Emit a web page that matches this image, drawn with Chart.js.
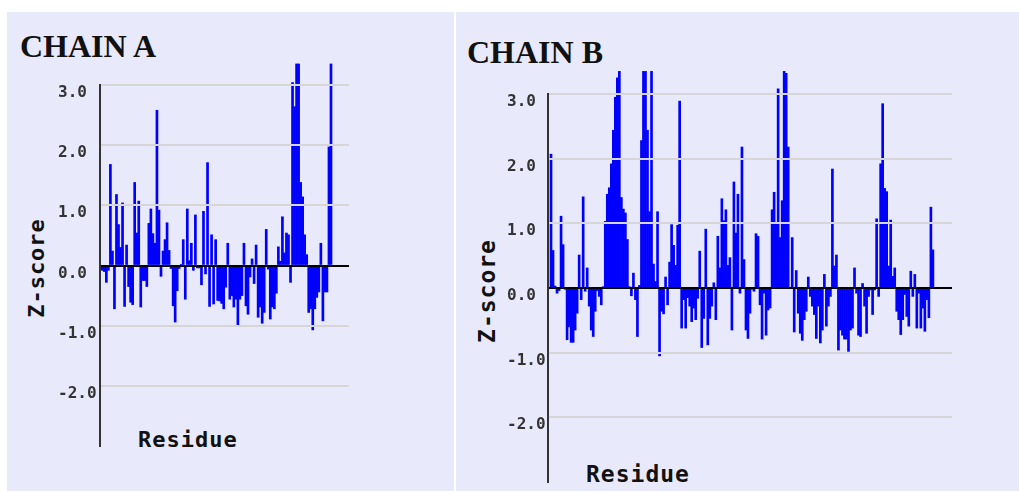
<!DOCTYPE html>
<html>
<head>
<meta charset="utf-8">
<title>Z-score per residue</title>
<script src="https://cdn.jsdelivr.net/npm/chart.js@4"></script>
<style>
  html, body { margin: 0; padding: 0; background: #fff; }
  body { width: 1019px; height: 492px; position: relative; overflow: hidden; }
  .panel { position: absolute; top: 12px; height: 479px; background: #e8eafc; }
  #panelA { left: 7px; width: 447px; }
  #panelB { left: 456px; width: 563px; }
  .title { position: absolute; font: bold 32px "Liberation Serif", "Times New Roman", serif; color: #111; line-height: 32px; white-space: nowrap; }
  .axis-title { position: absolute; font-family: "DejaVu Sans Mono", monospace; font-weight: bold; letter-spacing: 1px; color: #111; white-space: nowrap; }
  .ylab { transform: translate(-50%, -50%) rotate(-90deg); }
  .box { position: absolute; }
</style>
</head>
<body>
<div class="panel" id="panelA"></div>
<div class="panel" id="panelB"></div>

<div class="title" style="left:20px; top:30px;">CHAIN A</div>
<div class="title" style="left:467px; top:36px;">CHAIN B</div>

<div class="axis-title ylab" style="left:37px; top:268px; font-size:22px; line-height:22px;">Z-score</div>
<div class="axis-title ylab" style="left:487px; top:291px; font-size:23px; line-height:23px;">Z-score</div>
<div class="axis-title" style="left:138px; top:429px; font-size:22px; line-height:22px;">Residue</div>
<div class="axis-title" style="left:586px; top:463px; font-size:23px; line-height:23px;">Residue</div>

<div class="box" style="left:58px; top:60px; width:291px; height:388px;"><canvas id="chartA"></canvas></div>
<div class="box" style="left:507px; top:60px; width:445px; height:424px;"><canvas id="chartB"></canvas></div>

<script>
// ---- Data (Z-score per residue; 3.35 = clipped at the top) ----
const zscoreA = [
  -0.08, -0.1, -0.28, -0.08, 1.68, 0.24, -0.72, 1.18, 0.68, 0.3,
  1.04, -0.68, 0.34, -0.35, -0.61, -0.65, 1.38, 0.54, 1.07, -0.69,
  -0.25, -0.25, -0.35, 0.7, 0.94, 0.53, 0.37, 2.58, 0.92, -0.18,
  0.24, 0.43, 0.71, 0.25, -0.05, -0.67, -0.94,
  -0.42, -0.05, 0.02, 0.43, -0.56, 0.94, 0.08, 0.37, -0.08, 0.84,
  -0.04, -0.04, -0.32, 0.9, -0.14, 1.71, -0.68, 0.51, -0.64, 0.43,
  -0.58, -0.59, -0.63, -0.72, -0.36, 0.37, -0.56, -0.5, -0.69, -0.56,
  -0.99, -0.56, -0.5, 0.37, -0.67, -0.81, -0.19, 0.11, -0.3,
  0.34, -0.86, -0.69, -0.96, -0.78, 0.6, -0.06, -0.89, -0.69, -0.72,
  -0.46, 0.31, 0.07, 0.81, 0.21, 0.54, 0.51, -0.28, 3.04, 2.64,
  3.35, 3.35, 1.38, 1.14, 0.51, 0.18, -0.78, -0.72, -1.07, -0.72,
  -0.53, -0.44, 0.37, -0.92, -0.44, -0.44, 1.97, 3.35
];

const zscoreB = [
  2.07, 0.58, 0.03, -0.08, -0.04, 1.11, 0.67, -0.02, -0.8, -0.6,
  -0.84, -0.84, -0.65, -0.39, 0.51, -0.18, 1.41, -0.05, 0.31, -0.28,
  -0.65, -0.75, -0.36, -0.04, -0.13, -0.26, 0.02, 1.03, 1.45, 1.55,
  1.92, 2.44, 2.95, 3.25, 3.35, 1.4, 1.22, 1.16, 0.75, 0.02,
  -0.12, 0.23, -0.18, -0.75, 0.04, 2.28, 3.35, 3.35, 2.44, 1.18,
  3.35, 0.37, 0.1, 1.18, -1.05, -0.36, -0.4, 0.17, -0.26, 0.4,
  0.98, 0.66, 0.35, 0.97, 2.89, -0.62, -0.18, -0.62, -0.15, -0.28,
  -0.52, -0.31, -0.49, -0.16, 0.57, -0.92, -0.47, 0.91, -0.88, -0.47,
  -0.28, 0.08, -0.49, 0.8, 0.31,
  1.38, 1.04, 1.21, 0.35, 0.47, -0.65, 1.64, 0.85, 1.45, -0.08,
  2.18, 0.44, -0.65, -0.78, -0.39, -0.02, -0.05, 0.84, 0.8, -0.26,
  -0.79, -0.08, -0.73, -0.34, -0.31, 1.21, 1.48, 1.01, 3.08, 0.78,
  1.35, 3.35, 3.32, 2.18, 0, 0.78, -0.68, 0.27, -0.39, -0.7,
  -0.81, -0.49, -0.36, 0.17,
  -0.13, -0.28, -0.41, -0.78, -0.28, -0.85, -0.65, 0.21, -0.59, -0.28,
  -0.13, 1.84, 0.34, 0.51, -0.96, -0.65, -0.73, -0.79, -0.79, -0.98,
  -0.65, -0.62, 0.31, -0.08, -0.73, -0.75, 0.07, -0.28, -0.7, -0.13,
  -0.03, -0.41, -0.03, 1.07, -0.13, 1.92, 2.85, 1.54, 1.49, 0.34,
  1.05, 0.18, 0.31, -0.36, -0.49,
  -0.72, -0.49, -0.1, -0.44, -0.59, 0.26, -0.13, 0.21, -0.62, -0.08,
  -0.62, -0.31, -0.67, -0.18, -0.46, 1.25, 0.59
];

const residuesA = zscoreA.map((_, i) => i + 1);
const residuesB = zscoreB.map((_, i) => i + 1);

// labelled gridlines (no line / label at the -3 bottom edge)
const yTicks = [3, 2, 1, 0, -1, -2];

// ---- Chart builder ----
function makeChart(id, residues, values, xMin, xMax, padTop, axisWidth) {
  const ctx = document.getElementById(id).getContext('2d');
  return new Chart(ctx, {
    type: 'bar',
    data: {
      datasets: [{
        data: residues.map((r, i) => ({ x: r, y: values[i] })),
        backgroundColor: '#0000ff',
        borderWidth: 0,
        barPercentage: 1,
        categoryPercentage: 1,
        clip: false
      }]
    },
    options: {
      animation: false,
      responsive: true,
      maintainAspectRatio: false,
      layout: { padding: { top: padTop, bottom: 2, left: 0, right: 0 } },
      plugins: { legend: { display: false }, tooltip: { enabled: false } },
      scales: {
        x: { type: 'linear', display: false, offset: false, min: xMin, max: xMax },
        y: {
          min: -3,
          max: 3,
          afterBuildTicks: (scale) => {
            scale.ticks = yTicks.map(v => ({ value: v }));
          },
          afterFit: (scale) => {
            scale.width = axisWidth;
            scale.paddingTop = 0;
            scale.paddingBottom = 0;
          },
          ticks: {
            crossAlign: 'far',
            labelOffset: 8,
            padding: 0,
            color: '#333',
            font: { family: 'DejaVu Sans Mono', weight: 'bold', size: 16 },
            callback: (v) => Number(v).toFixed(1)
          },
          grid: {
            z: 1,
            drawTicks: false,
            lineWidth: 2,
            color: (c) => (c.tick && c.tick.value === 0) ? '#000' : '#d6d6d6'
          },
          border: { display: true, color: '#333', width: 2, z: 2 }
        }
      }
    }
  });
}

document.addEventListener('DOMContentLoaded', () => {
  makeChart('chartA', residuesA, zscoreA, -0.14, 122.9, 25, 42);
  makeChart('chartB', residuesB, zscoreB, -0.5, 200.5, 34, 41);
});
</script>
</body>
</html>
